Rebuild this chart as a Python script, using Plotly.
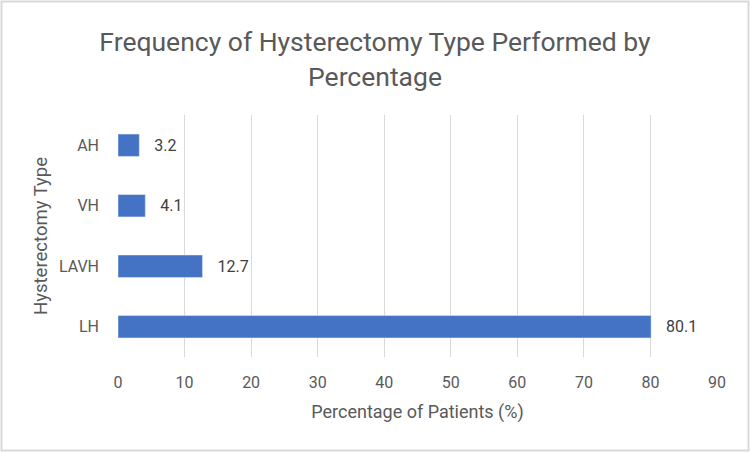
import plotly.graph_objects as go

categories = ["LH", "LAVH", "VH", "AH"]
values = [80.1, 12.7, 4.1, 3.2]
x_ticks = [0, 10, 20, 30, 40, 50, 60, 70, 80, 90]

FONT = "Roboto, sans-serif"
GRAY = "#595959"

W, H = 750, 452
L, R, T, B = 118, 33, 115, 95
pw, ph = W - L - R, H - T - B

fig = go.Figure(go.Bar(
    x=values, y=categories, orientation="h",
    marker=dict(color="#4472C4"),
    width=0.37,
    text=["   " + str(v) for v in values], textposition="outside",
    textfont=dict(family=FONT, size=16, color="#404040"),
    cliponaxis=False,
))

fig.update_layout(
    width=W, height=H,
    margin=dict(l=L, r=R, t=T, b=B),
    paper_bgcolor="white", plot_bgcolor="white",
    showlegend=False,
    title=dict(text="Frequency of Hysterectomy Type Performed by<br>Percentage",
               x=0.5, xanchor="center", y=0.887, yanchor="middle",
               font=dict(family=FONT, size=26.5, color=GRAY)),
    xaxis=dict(range=[0, 90], tickvals=x_ticks, showgrid=True,
               gridcolor="#d9d9d9", gridwidth=1, zeroline=False,
               showline=False, ticks="", ticklabelstandoff=14,
               tickfont=dict(family=FONT, size=16, color=GRAY),
               title=dict(text="Percentage of Patients (%)", standoff=14,
                          font=dict(family=FONT, size=18, color=GRAY))),
    yaxis=dict(categoryorder="array", categoryarray=categories,
               showgrid=False, zeroline=False, showline=False, ticks="",
               ticklabelstandoff=18,
               tickfont=dict(family=FONT, size=16, color=GRAY),
               title=dict(text="Hysterectomy Type", standoff=6,
                          font=dict(family=FONT, size=18.5, color=GRAY))),
    shapes=[dict(type="rect", xref="paper", yref="paper",
                 x0=(1.5 - L) / pw, x1=(W - 1.5 - L) / pw,
                 y0=-(B - 1.5) / ph, y1=1 + (T - 1.5) / ph,
                 line=dict(color="#d9d9d9", width=2), fillcolor="rgba(0,0,0,0)",
                 layer="below")],
)

fig.write_html("out.html")
